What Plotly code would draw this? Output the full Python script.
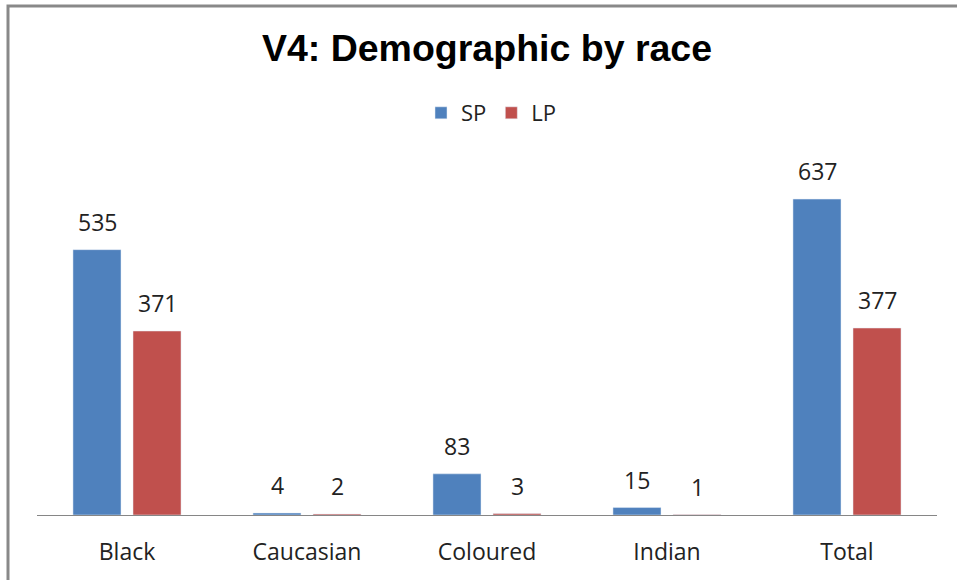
import plotly.graph_objects as go

categories = ["Black", "Caucasian", "Coloured", "Indian", "Total"]
sp_values = [535, 4, 83, 15, 637]
lp_values = [371, 2, 3, 1, 377]

SP_COLOR = "#4F81BD"
LP_COLOR = "#C0504D"
FONT_FAMILY = "Open Sans, Noto Sans, sans-serif"
TEXT_FONT = dict(family=FONT_FAMILY, size=23, color="#222222")

fig = go.Figure()
fig.add_trace(go.Bar(x=categories, y=sp_values, name="SP", marker_color=SP_COLOR))
fig.add_trace(go.Bar(x=categories, y=lp_values, name="LP", marker_color=LP_COLOR))

# value labels sitting above each bar
annotations = []
for vals, shift in ((sp_values, -30), (lp_values, 30)):
    for cat, v in zip(categories, vals):
        annotations.append(dict(x=cat, y=v, text=str(v), showarrow=False,
                                xshift=shift, yshift=28, font=TEXT_FONT))

# plot area: x 37..937, y 148..515 (legend pushes the top margin to 148 anyway)
fig.update_layout(
    width=957, height=580,
    margin=dict(l=37, r=20, t=148, b=65),
    paper_bgcolor="white", plot_bgcolor="white",
    barmode="group", bargap=0.333, bargroupgap=0.2,
    title=dict(text="<b>V4: Demographic by race</b>", x=487 / 957, xanchor="center",
               y=1 - 48 / 580, yanchor="middle", yref="container",
               font=dict(family="Liberation Sans, Arial, sans-serif", size=37.5, color="black")),
    legend=dict(orientation="h", x=0.505, xanchor="center", y=1 - 113 / 580,
                yanchor="middle", yref="container",
                font=dict(family=FONT_FAMILY, size=22, color="#222222"),
                itemwidth=30, tracegroupgap=0),
    xaxis=dict(showline=True, linecolor="#868686", linewidth=1, ticks="",
               ticklabelstandoff=16,
               tickfont=dict(family=FONT_FAMILY, size=23, color="#222222")),
    yaxis=dict(range=[0, 740], visible=False, showgrid=False),
    annotations=annotations,
    # grey chart frame; right and bottom edges run off the page
    shapes=[dict(type="rect", xref="paper", yref="paper", x0=-29 / 900, x1=1.08,
                 y0=-0.3, y1=509 / 367, line=dict(color="#898989", width=3))],
    showlegend=True,
)

# drop the browser's default body margin so the figure sits at the page origin
fig.write_html("out.html", config={"displayModeBar": False},
               post_script="document.body.style.margin='0';")
